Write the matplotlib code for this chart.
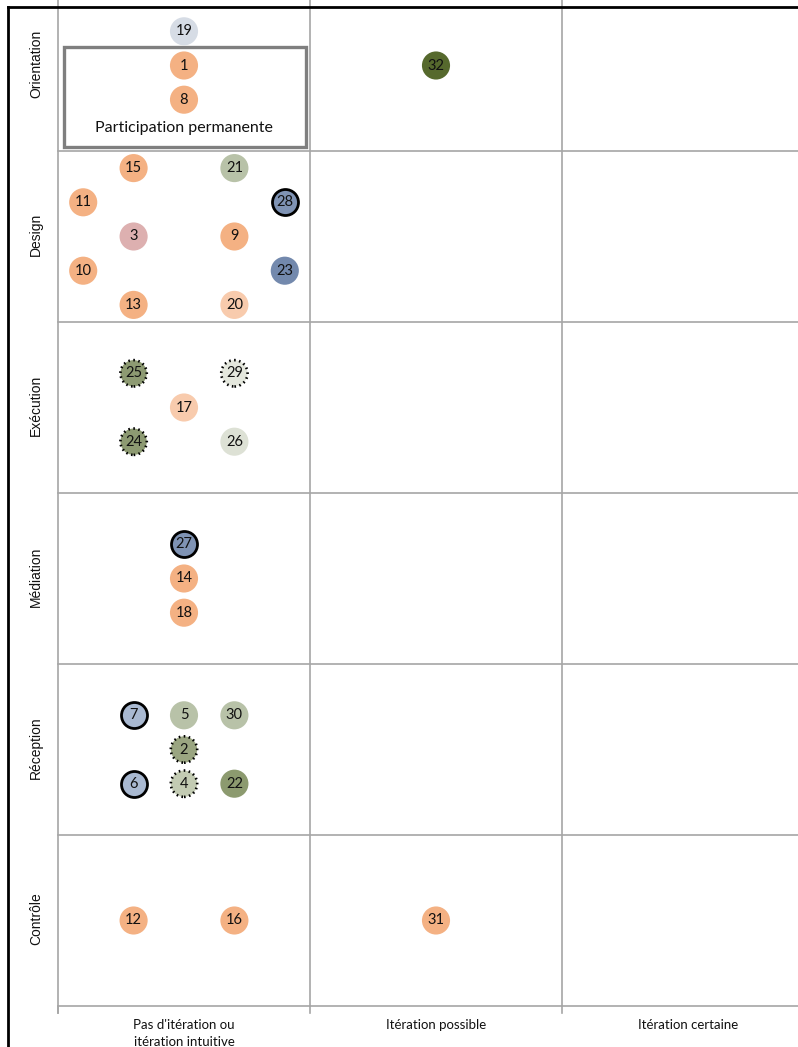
import matplotlib.pyplot as plt
from matplotlib.lines import Line2D
from matplotlib.patches import Rectangle

# ─── DATA ─────────────────────────────────────────────────────────────────────
phases = ['Orientation', 'Design', 'Exécution', 'Médiation', 'Réception', 'Contrôle']
iterations = ["Pas d'itération ou\nitération intuitive", 'Itération possible', 'Itération certaine']

ids    = [19, 1, 8, 32,
          15, 21, 11, 28, 3, 9, 10, 23, 13, 20,
          25, 29, 17, 24, 26,
          27, 14, 18,
          7, 5, 30, 2, 6, 4, 22,
          12, 16, 31]
phase  = ['Orientation'] * 4 + ['Design'] * 10 + ['Exécution'] * 5 + \
         ['Médiation'] * 3 + ['Réception'] * 7 + ['Contrôle'] * 3
iter_col = [0, 0, 0, 1,
            0, 0, 0, 0, 0, 0, 0, 0, 0, 0,
            0, 0, 0, 0, 0,
            0, 0, 0,
            0, 0, 0, 0, 0, 0, 0,
            0, 0, 1]
# slot inside the cell (-2..2 horizontally, -2..2 vertically, up positive)
slot_x = [0, 0, 0, 0,
          -1, 1, -2, 2, -1, 1, -2, 2, -1, 1,
          -1, 1, 0, -1, 1,
          0, 0, 0,
          -1, 0, 1, 0, -1, 0, 1,
          -1, 1, 0]
slot_y = [1, 0, -1, 0,
          2, 2, 1, 1, 0, 0, -1, -1, -2, -2,
          1, 1, 0, -1, -1,
          1, 0, -1,
          1, 1, 1, 0, -1, -1, -1,
          0, 0, 0]
kind = ['bluegrey', 'orange', 'orange', 'darkgreen',
        'orange', 'sage', 'orange', 'blue_b', 'pink', 'orange', 'orange', 'blue', 'orange', 'lightorange',
        'green_d', 'pale_d', 'lightorange', 'green_d', 'pale',
        'blue_b', 'orange', 'orange',
        'lightblue_b', 'sage', 'sage', 'green2_d', 'lightblue_b', 'sage2_d', 'green',
        'orange', 'orange', 'orange']

# ─── STYLES ───────────────────────────────────────────────────────────────────
STYLE = {
    'orange':      ('#F4B183', None),
    'lightorange': ('#F8CBAD', None),
    'bluegrey':    ('#D6DCE5', None),
    'pink':        ('#DDB0B0', None),
    'sage':        ('#B8C2A8', None),
    'blue':        ('#7389AD', None),
    'blue_b':      ('#7F93B4', 'solid'),
    'lightblue_b': ('#A9B9D1', 'solid'),
    'green_d':     ('#8D9A72', 'dotted'),
    'green2_d':    ('#9AA581', 'dotted'),
    'sage2_d':     ('#C3CBB3', 'dotted'),
    'pale_d':      ('#E4E7DD', 'dotted'),
    'pale':        ('#DDE1D5', None),
    'green':       ('#8C9A6F', None),
    'darkgreen':   ('#56692D', None),
}
GRID = '#A6A6A6'
FONT = 'Lato'
W, H = 798, 1047

fig = plt.figure(figsize=(W / 100, H / 100), dpi=100)
fig.patch.set_facecolor('white')

# axes: left edge at x=58px, bottom at y=1006px, 252px per column, 171px per row
ax = fig.add_axes([58 / W, (H - 1006) / H, 756 / W, 1026 / H])
ax.set_xlim(0, 3)
ax.set_ylim(0, 6)
ax.axis('off')

n_rows = len(phases)
# grid
for r in range(1, n_rows):
    ax.plot([0, 3], [r, r], color=GRID, lw=1.2, clip_on=False, zorder=1)
for c in range(1, 3):
    ax.plot([c, c], [0, 6], color=GRID, lw=1.2, clip_on=False, zorder=1)
ax.plot([0, 3], [0, 0], color=GRID, lw=1.2, clip_on=False, zorder=1)
ax.plot([0, 0], [-0.04, 6], color=GRID, lw=1.2, clip_on=False, zorder=1)
for c in range(0, 3):
    ax.plot([c, c], [0, -0.04], color=GRID, lw=1.2, clip_on=False, zorder=1)

# row labels
for i, name in enumerate(phases):
    yc = n_rows - 1 - i + 0.5
    ax.text(-22 / 252, yc + 0.01, name, rotation=90, ha='center', va='center',
            fontsize=10, family='Liberation Sans', color='#111111')

# column labels
for c, name in enumerate(iterations):
    ax.text(c + 0.5, -14 / 171 + 0.005, name, ha='center', va='top',
            fontsize=9.5, family=FONT, color='#111111', linespacing=1.45)

# "Participation permanente" box
ax.add_patch(Rectangle((0.024, 5.023), 0.96, 0.585, fill=False,
                       edgecolor='#7F7F7F', lw=2.4, zorder=2))
ax.text(0.5, 5.135, 'Participation permanente', ha='center', va='center',
        fontsize=11.5, family=FONT, color='#111111', zorder=3)

# markers
row_of = {p: n_rows - 1 - i for i, p in enumerate(phases)}
for n, p, c, sx, sy, k in zip(ids, phase, iter_col, slot_x, slot_y, kind):
    x = c + 0.5 + 0.2 * sx
    y = row_of[p] + 0.5 + 0.2 * sy
    face, edge = STYLE[k]
    if edge == 'solid':
        ax.scatter([x], [y], s=350, c=face, edgecolors='black', linewidths=2.0, zorder=4)
    elif edge == 'dotted':
        ax.scatter([x], [y], s=360, c=face, edgecolors='black', linewidths=1.9,
                   linestyles=(0, (0.6, 1.3)), zorder=4)
    else:
        ax.scatter([x], [y], s=410, c=face, edgecolors='none', zorder=4)
    ax.text(x, y, str(n), ha='center', va='center', fontsize=10.5,
            family=FONT, color='#111111', zorder=5)

# outer black frame of the screenshot
fig.add_artist(Line2D([8 / W, 1], [1 - 7 / H, 1 - 7 / H], color='black', lw=2.0))
fig.add_artist(Line2D([8 / W, 8 / W], [0, 1 - 7 / H], color='black', lw=2.0))

fig.savefig('out.png', dpi=100, facecolor='white')
